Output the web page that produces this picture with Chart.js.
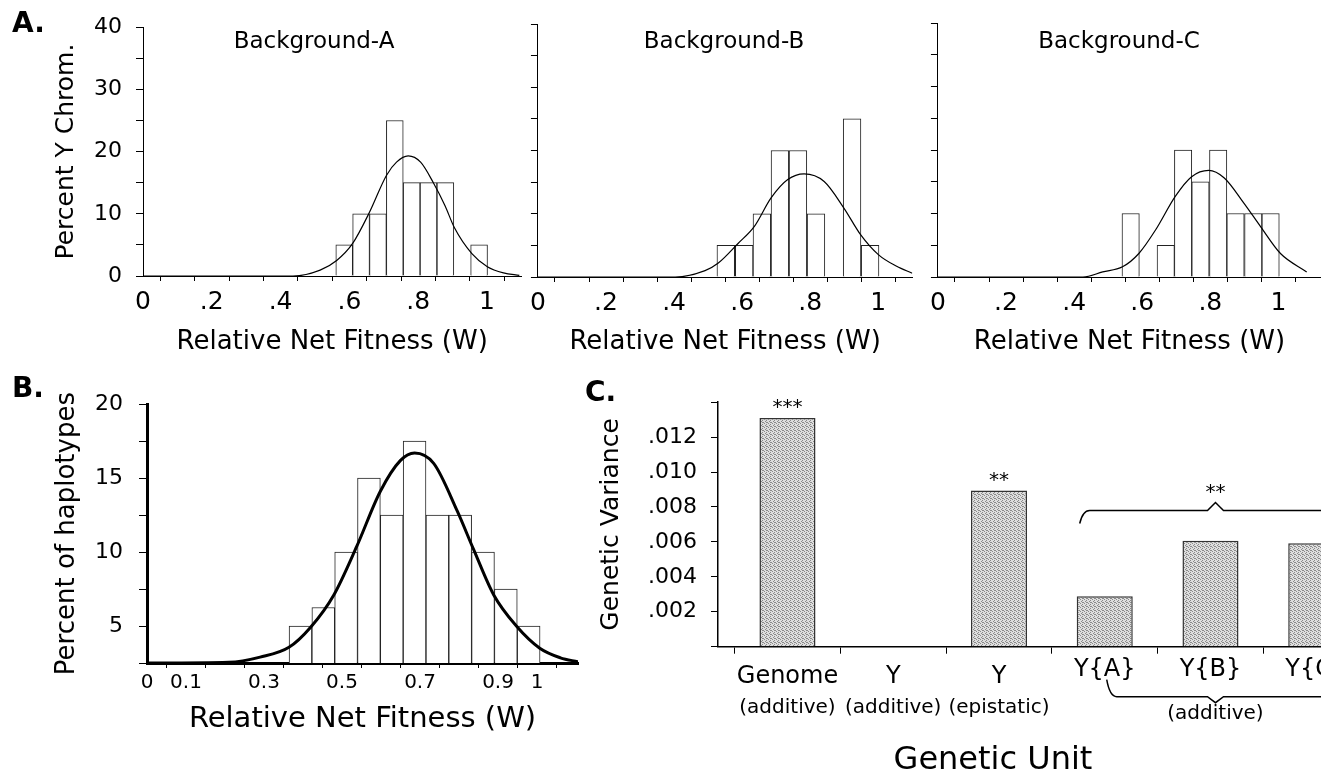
<!DOCTYPE html>
<html>
<head>
<meta charset="utf-8">
<script src="https://cdn.jsdelivr.net/npm/chart.js@4.4.1/dist/chart.umd.min.js"></script>
<style>
  body { margin: 0; background: #fff; }
  #fig { position: relative; width: 1321px; height: 777px; overflow: hidden; font-family: 'DejaVu Sans', sans-serif; color: #000; }
  canvas { position: absolute; }
  .lbl { position: absolute; white-space: nowrap; line-height: 1; transform: translate(-50%, -50%); }
  .tag { position: absolute; white-space: nowrap; line-height: 1; font-weight: bold; font-size: 28px; transform: translateY(-50%); }
</style>
</head>
<body>
<div id="fig">
  <canvas id="chartA1" width="530" height="370" style="left:0px;top:0px"></canvas>
  <canvas id="chartA2" width="398" height="370" style="left:524px;top:0px"></canvas>
  <canvas id="chartA3" width="397" height="370" style="left:924px;top:0px"></canvas>
  <canvas id="chartB" width="600" height="402" style="left:0px;top:375px"></canvas>
  <canvas id="chartC" width="761" height="402" style="left:560px;top:375px"></canvas>

  <div class="tag" style="left:12px;top:23px">A.</div>
  <div class="tag" style="left:12px;top:388px">B.</div>
  <div class="tag" style="left:585px;top:392px">C.</div>
  <div class="lbl" style="left:314px;top:40px;font-size:23px">Background-A</div>
  <div class="lbl" style="left:724px;top:40px;font-size:23px">Background-B</div>
  <div class="lbl" style="left:1119px;top:40px;font-size:23px">Background-C</div>
  <div class="lbl" style="left:993px;top:758px;font-size:32px">Genetic Unit</div>
</div>
<script>
Chart.defaults.font.family = "'DejaVu Sans', sans-serif";
Chart.defaults.color = '#000';

// A: Y chromosomes in background A, B, C (percent per fitness bin + fitted curve)
const binsA = [0.585, 0.634, 0.683, 0.732, 0.781, 0.830, 0.879, 0.928, 0.977];
const pctA = [5, 10, 10, 25, 15, 15, 15, 0, 5];
const curveAx = [0, 0.436, 0.515, 0.563, 0.609, 0.658, 0.708, 0.737, 0.771, 0.807, 0.844, 0.878, 0.905, 0.956, 1.001, 1.048, 1.094];
const curveAy = [0, 0, 0.95, 2.5, 5.2, 10.2, 16.2, 18.3, 19.3, 18.3, 15.0, 11.3, 7.8, 3.6, 1.5, 0.5, 0.1];

const binsB = [0.552, 0.606, 0.658, 0.711, 0.764, 0.817, 0.870, 0.923, 0.976];
const pctB = [5, 5, 10, 20, 20, 10, 0, 25, 5];
const curveBx = [0, 0.403, 0.491, 0.53, 0.588, 0.636, 0.685, 0.734, 0.782, 0.841, 0.899, 0.948, 1.001, 1.054, 1.1];
const curveBy = [0, 0, 1.0, 2.2, 5.3, 8.0, 12.5, 15.4, 16.3, 15.1, 10.9, 6.7, 3.5, 1.7, 0.6];

const binsC = [0.566, 0.617, 0.669, 0.720, 0.771, 0.823, 0.874, 0.926, 0.977];
const pctC = [10, 0, 5, 20, 15, 20, 10, 10, 10];
const curveCx = [0, 0.426, 0.484, 0.542, 0.59, 0.639, 0.697, 0.745, 0.795, 0.841, 0.899, 0.948, 1.006, 1.083];
const curveCy = [0, 0, 0.8, 1.6, 3.7, 7.4, 12.7, 15.8, 16.8, 15.6, 11.6, 7.9, 3.7, 0.8];

// B: haplotypes
const binsHap = [0.3935, 0.452, 0.5105, 0.569, 0.6275, 0.686, 0.7445, 0.803, 0.8615, 0.92, 0.9785];
const pctHap = [5, 6.25, 10, 15, 12.5, 17.5, 12.5, 12.5, 10, 7.5, 5];
const curveHapX = [0, 0.21, 0.29, 0.364, 0.419, 0.479, 0.538, 0.598, 0.65, 0.686, 0.735, 0.795, 0.837, 0.889, 0.947, 1.007, 1.06, 1.105];
const curveHapY = [2.5, 2.55, 2.9, 3.56, 4.9, 7.1, 10.4, 14.1, 16.2, 16.7, 16.0, 12.8, 10.2, 7.1, 5.0, 3.5, 2.85, 2.58];
const hapTickLabels = [0, 1, 3, 5, 7, 9, 10]; // tenths that get a label

// C: genetic variance per unit
const units = ['Genome', 'Y', 'Y', 'Y{A}', 'Y{B}', 'Y{C}'];
const unitNotes = ['(additive)', '(additive)', '(epistatic)', '', '', ''];
const variance = [0.0131, 0, 0.00895, 0.00289, 0.00606, 0.00592];
const stars = ['***', '', '**', '', '', ''];

const pairs = (xs, ys) => xs.map((x, i) => ({ x: x, y: ys[i] }));

function histogram(id, o) {
  return new Chart(document.getElementById(id), {
    type: 'bar',
    data: {
      datasets: [
        {
          type: 'line',
          data: pairs(o.curveX, o.curveY),
          borderColor: '#000',
          borderWidth: o.curveWidth,
          pointRadius: 0,
          cubicInterpolationMode: 'monotone',
          order: 0
        },
        {
          data: pairs(o.bins, o.pct),
          backgroundColor: '#fff',
          borderColor: '#222',
          borderWidth: 1,
          barPercentage: 1,
          categoryPercentage: 1,
          order: 1
        }
      ]
    },
    options: {
      responsive: false,
      animation: false,
      devicePixelRatio: 1,
      layout: { padding: { top: o.padTop, right: o.padRight, left: 0, bottom: 0 } },
      plugins: { legend: { display: false }, tooltip: { enabled: false } },
      scales: {
        x: {
          type: 'linear',
          offset: false,
          min: 0,
          max: o.xMax,
          afterFit: s => { s.height = o.xHeight; },
          ticks: {
            stepSize: 0.1,
            includeBounds: false,
            autoSkip: false,
            maxRotation: 0,
            font: { size: o.xFont },
            padding: o.xPad,
            callback: o.xLabel
          },
          grid: { drawOnChartArea: false, tickLength: 5, color: '#000' },
          border: { color: '#000', width: o.axisWidth },
          title: {
            display: true,
            text: 'Relative Net Fitness (W)',
            font: { size: o.titleFont },
            padding: { top: 0, bottom: o.titlePad }
          }
        },
        y: {
          min: o.yMin,
          max: o.yMax,
          afterFit: s => { s.width = o.yWidth; },
          ticks: {
            display: o.yLabels,
            stepSize: o.yStep,
            font: { size: 22 },
            padding: o.yPad,
            callback: o.yLabel
          },
          grid: { drawOnChartArea: false, tickLength: o.yTick, color: '#000' },
          border: { color: '#000', width: o.axisWidth },
          title: {
            display: !!o.yTitle,
            text: o.yTitle,
            font: { size: o.yTitleFont },
            padding: { top: o.yTitlePad, bottom: 0 }
          }
        }
      }
    }
  });
}

const tenthsLabel = v => {
  const r = Math.round(v * 10);
  if (r % 2 !== 0 || r > 10) return '';
  return r === 0 ? '0' : r === 10 ? '1' : '.' + r;
};
const percentLabel = v => (Math.round(v) % 10 === 0 ? String(Math.round(v)) : '');

const panelA = {
  curveWidth: 1.2, axisWidth: 1, xFont: 25, xPad: 6, titleFont: 26, titlePad: 12,
  yMin: 0, yMax: 40, yStep: 5, yTick: 7, yPad: 14, xLabel: tenthsLabel
};

histogram('chartA1', Object.assign({}, panelA, {
  bins: binsA, pct: pctA, curveX: curveAx, curveY: curveAy,
  padTop: 23, padRight: 8.6, xMax: 1.1, xHeight: 94, yWidth: 143,
  yLabels: true, yLabel: percentLabel,
  yTitle: 'Percent Y Chrom.', yTitleFont: 25, yTitlePad: 51
}));

histogram('chartA2', Object.assign({}, panelA, {
  bins: binsB, pct: pctB, curveX: curveBx, curveY: curveBy,
  padTop: 24, padRight: 9.7, xMax: 1.1, xHeight: 93, yWidth: 11,
  yLabels: false, yLabel: percentLabel
}));

histogram('chartA3', Object.assign({}, panelA, {
  bins: binsC, pct: pctC, curveX: curveCx, curveY: curveCy,
  padTop: 23, padRight: 0, xMax: 1.125, xHeight: 93, yWidth: 9,
  yLabels: false, yLabel: percentLabel
}));

histogram('chartB', {
  bins: binsHap, pct: pctHap, curveX: curveHapX, curveY: curveHapY,
  curveWidth: 3, axisWidth: 3,
  padTop: 22.3, padRight: 22, xMax: 1.105, xHeight: 114, yWidth: 147,
  xFont: 20, xPad: 3, titleFont: 29, titlePad: 40.6,
  xLabel: v => {
    const r = Math.round(v * 10);
    if (!hapTickLabels.includes(r)) return '';
    return r === 0 ? '0' : r === 10 ? '1' : '0.' + r;
  },
  yMin: 2.5, yMax: 20, yStep: 1.25, yTick: 8, yPad: 16, yLabels: true,
  yLabel: v => (Math.abs(v % 5) < 1e-6 ? String(Math.round(v)) : ''),
  yTitle: 'Percent of haplotypes', yTitleFont: 26, yTitlePad: 51.4
});

// stippled grey like the printed bars
function stipple() {
  const c = document.createElement('canvas');
  c.width = 4; c.height = 4;
  const g = c.getContext('2d');
  g.fillStyle = '#dedede';
  g.fillRect(0, 0, 4, 4);
  g.fillStyle = '#8a8a8a';
  [[0, 0], [2, 1], [1, 2], [3, 3], [2, 3]].forEach(p => g.fillRect(p[0], p[1], 1, 1));
  return g.createPattern(c, 'repeat');
}

const BAR_PCT = 0.53;

const unitAnnotations = {
  id: 'unitAnnotations',
  afterDraw(chart) {
    const { ctx, chartArea } = chart;
    const x = chart.scales.x, y = chart.scales.y;
    const half = (x.getPixelForValue(1) - x.getPixelForValue(0)) * BAR_PCT / 2;
    const base = chartArea.bottom;
    ctx.save();
    ctx.fillStyle = '#000';
    ctx.strokeStyle = '#000';
    ctx.textAlign = 'center';
    ctx.textBaseline = 'middle';

    units.forEach((u, i) => {
      const px = x.getPixelForValue(i);
      ctx.font = "24px 'DejaVu Sans'";
      ctx.fillText(u, px, base + (unitNotes[i] ? 30 : 23));
      if (unitNotes[i]) {
        ctx.font = "20px 'DejaVu Sans'";
        ctx.fillText(unitNotes[i], px, base + 61);
      }
      if (stars[i]) {
        ctx.font = "20px 'DejaVu Sans'";
        ctx.fillText(stars[i], px, y.getPixelForValue(variance[i]) - 10);
      }
    });

    // brace over the Y{A}..Y{C} group
    const b0 = x.getPixelForValue(3) - half + 3;
    const pk = x.getPixelForValue(4) + 5;
    const yb = y.getPixelForValue(0.0078);
    ctx.lineWidth = 1.5;
    ctx.beginPath();
    ctx.moveTo(b0, yb + 13);
    ctx.quadraticCurveTo(b0 + 3, yb, b0 + 10, yb);
    ctx.lineTo(pk - 8, yb);
    ctx.lineTo(pk, yb - 8);
    ctx.lineTo(pk + 8, yb);
    ctx.lineTo(chart.width + 10, yb);
    ctx.stroke();
    ctx.font = "20px 'DejaVu Sans'";
    ctx.fillText('**', pk, yb - 18);

    // brace under the group labels
    const l0 = x.getPixelForValue(3) + 2;
    const yl = base + 50;
    ctx.beginPath();
    ctx.moveTo(l0, base + 33);
    ctx.quadraticCurveTo(l0 + 3, yl, l0 + 10, yl);
    ctx.lineTo(pk - 8, yl);
    ctx.lineTo(pk, yl + 6);
    ctx.lineTo(pk + 8, yl);
    ctx.lineTo(chart.width + 10, yl);
    ctx.stroke();
    ctx.fillText('(additive)', pk, base + 67);
    ctx.restore();
  }
};

new Chart(document.getElementById('chartC'), {
  type: 'bar',
  data: {
    datasets: [{
      data: variance.map((v, i) => ({ x: i, y: v })),
      backgroundColor: stipple(),
      borderColor: '#333',
      borderWidth: 1.5,
      barPercentage: BAR_PCT,
      categoryPercentage: 1
    }]
  },
  options: {
    responsive: false,
    animation: false,
    devicePixelRatio: 1,
    layout: { padding: { top: 18, right: 0, left: 0, bottom: 0 } },
    plugins: { legend: { display: false }, tooltip: { enabled: false } },
    scales: {
      x: {
        type: 'linear',
        offset: false,
        min: -0.657,
        max: 5.045,
        afterBuildTicks: s => { s.ticks = units.map((u, i) => ({ value: i })); },
        afterFit: s => { s.height = 130.3; },
        ticks: { display: false },
        grid: { drawOnChartArea: false, tickLength: 7, color: '#000' },
        border: { color: '#000', width: 1.5 }
      },
      y: {
        min: 0,
        max: 0.014,
        afterFit: s => { s.width = 158; },
        ticks: {
          stepSize: 0.001,
          font: { size: 22 },
          padding: 14,
          callback: v => {
            const r = Math.round(v * 1000);
            return r > 0 && r <= 12 && r % 2 === 0 ? '.' + String(r).padStart(3, '0') : '';
          }
        },
        grid: { drawOnChartArea: false, tickLength: 7, color: '#000' },
        border: { color: '#000', width: 1.5 },
        title: {
          display: true,
          text: 'Genetic Variance',
          font: { size: 25 },
          padding: { top: 36, bottom: 0 }
        }
      }
    }
  },
  plugins: [unitAnnotations]
});
</script>
</body>
</html>
